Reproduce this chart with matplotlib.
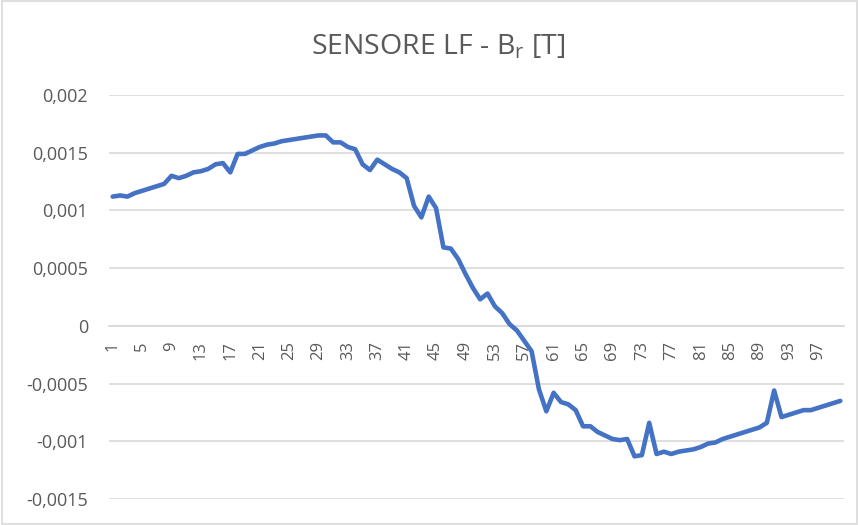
import matplotlib
matplotlib.use("Agg")
import matplotlib.pyplot as plt
from matplotlib.patches import Rectangle

# sensor LF, radial field component Br [T], one reading per position
positions = list(range(1, 101))
br_values = [
    0.00112, 0.00113, 0.00112, 0.00115, 0.00117, 0.00119, 0.00121, 0.00123, 0.00130, 0.00128,
    0.00130, 0.00133, 0.00134, 0.00136, 0.00140, 0.00141, 0.00133, 0.00149, 0.00149, 0.00152,
    0.00155, 0.00157, 0.00158, 0.00160, 0.00161, 0.00162, 0.00163, 0.00164, 0.00165, 0.00165,
    0.00159, 0.00159, 0.00155, 0.00153, 0.00140, 0.00135, 0.00144, 0.00140, 0.00136, 0.00133,
    0.00128, 0.00104, 0.00094, 0.00112, 0.00102, 0.00068, 0.00067, 0.00058, 0.00045, 0.00033,
    0.00023, 0.00028, 0.00017, 0.00011, 0.000015, -0.00004, -0.00013, -0.00022, -0.00055, -0.00074,
    -0.00058, -0.00066, -0.00068, -0.00073, -0.00087, -0.00087, -0.00092, -0.00095, -0.00098, -0.00099,
    -0.00098, -0.00113, -0.00112, -0.00084, -0.00111, -0.00109, -0.00111, -0.00109, -0.00108, -0.00107,
    -0.00105, -0.00102, -0.00101, -0.00098, -0.00096, -0.00094, -0.00092, -0.00090, -0.00088, -0.00084,
    -0.00056, -0.00079, -0.00077, -0.00075, -0.00073, -0.00073, -0.00071, -0.00069, -0.00067, -0.00065,
]

y_ticks = [0.002, 0.0015, 0.001, 0.0005, 0, -0.0005, -0.001, -0.0015]
y_tick_labels = ["0,002", "0,0015", "0,001", "0,0005", "0", "-0,0005", "-0,001", "-0,0015"]
x_tick_positions = positions[::4]

plt.rcParams["font.family"] = ["Open Sans", "DejaVu Sans"]
plt.rcParams["mathtext.default"] = "regular"

text_grey = "#595959"
grid_grey = "#d9d9d9"

fig = plt.figure(figsize=(8.59, 5.25), dpi=100)
ax = fig.add_axes([0.1269, 0.0495, 0.8556, 0.7695])

ax.plot(positions, br_values, color="#4472C4", linewidth=3.3,
        solid_joinstyle="round", solid_capstyle="round", zorder=3)

ax.set_xlim(0.5, 100.5)
ax.set_ylim(-0.0015, 0.002)

for side in ["top", "right", "left"]:
    ax.spines[side].set_visible(False)
# category axis crosses at zero
ax.spines["bottom"].set_position(("data", 0))
ax.spines["bottom"].set_color(grid_grey)
ax.spines["bottom"].set_linewidth(1.2)

ax.set_yticks(y_ticks)
ax.set_yticklabels(y_tick_labels)
ax.set_xticks(x_tick_positions)
ax.set_xticklabels([str(p) for p in x_tick_positions])

ax.grid(axis="y", color=grid_grey, linewidth=1.2)
ax.set_axisbelow(True)

ax.tick_params(axis="y", length=0, pad=15, labelsize=13, labelcolor=text_grey)
ax.tick_params(axis="x", length=0, pad=11, labelsize=12, labelcolor=text_grey,
               labelrotation=90)

fig.text(0.5105, 0.8966, "SENSORE LF - $B_r$ [T]", ha="center", va="baseline",
         fontsize=20.5, color=text_grey)

# chart area border
fig.patches.append(Rectangle((0.002, 0.002), 0.996, 0.996, transform=fig.transFigure,
                             fill=False, edgecolor=grid_grey, linewidth=1.2))

fig.savefig("out.png", dpi=100)
